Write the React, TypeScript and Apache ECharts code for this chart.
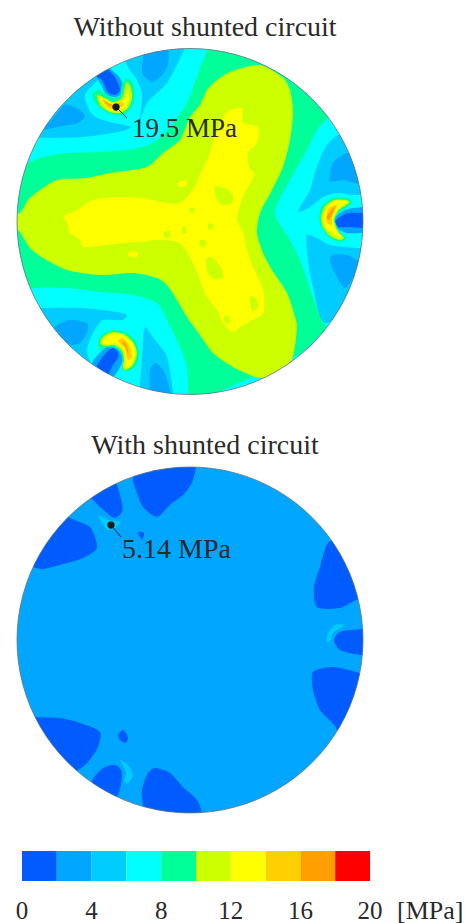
import React, { useEffect, useRef } from "react";
import * as echarts from "echarts";

type Pt = number[];
const FONT = "'Liberation Serif','Times New Roman',serif";

const scaleStops = [0, 2, 4, 6, 8, 10, 12, 14, 16, 18, 20];
const scaleColors = ["#005cff", "#00a6ff", "#00ccff", "#00ffff", "#00ff99", "#ccff00", "#ffff00", "#ffd000", "#ffa000", "#ff0000"];
const scaleTicks = [0, 4, 8, 12, 16, 20];

const titles = ["Without shunted circuit", "With shunted circuit"];
const unitLabel = "[MPa]";

// Contour outlines, traced in each disk's own units
const d1Green: Pt[] = [[208,35],[208,48],[200,68],[187,103],[170,127],[153,143],[133,149],[100,152],[67,153],[43,157],[27,163],[5,166],[5,290],[32,288],[67,288],[100,292],[133,295],[157,303],[167,320],[180,347],[187,367],[188,393],[188,405],[335,335],[325,325],[313,297],[300,260],[290,240],[275,213],[290,180],[307,150],[317,130],[328,118],[345,100],[330,35]];
const d1Lime: Pt[] = [[8,213],[20,213],[28,200],[40,190],[57,180],[87,178],[110,173],[147,167],[163,153],[180,140],[190,117],[200,105],[207,90],[217,80],[230,72],[260,65],[283,78],[290,90],[293,113],[290,140],[283,167],[272,190],[260,213],[257,233],[263,253],[272,270],[287,293],[295,317],[297,327],[292,360],[280,372],[260,378],[233,367],[213,353],[200,335],[187,317],[177,300],[167,285],[157,278],[133,273],[100,275],[67,270],[43,258],[30,248],[18,230],[8,230]];
const d1Yellow: Pt[] = [[63,217],[77,210],[93,200],[117,197],[143,198],[167,203],[180,203],[193,190],[200,175],[210,153],[217,130],[227,112],[242,108],[243,123],[258,127],[257,143],[248,153],[250,170],[255,173],[243,197],[237,220],[243,232],[250,260],[263,290],[263,313],[243,325],[233,332],[223,323],[217,310],[207,297],[200,280],[193,263],[180,243],[157,240],[140,242],[123,243],[83,247],[80,240],[70,233],[67,222]];
const d1LimeHoles: Pt[][] = [
  [[215,187],[225,188],[233,195],[232,203],[222,205],[216,198]],
  [[207,258],[213,258],[222,270],[223,278],[214,279],[207,272]],
  [[250,297],[256,298],[258,308],[252,311]],
  [[224,317],[229,316],[230,322],[226,324]],
  [[200,240],[206,241],[205,247],[200,246]],
  [[164,232],[170,231],[170,237],[165,238]],
  [[182,227],[186,227],[186,233],[182,233]],
  [[208,224],[213,224],[213,229],[208,229]],
  [[190,208],[194,208],[194,213],[190,213]],
];
const d1YellowSpots: Pt[][] = [
  [[178,183],[187,180],[186,186],[179,187]],
  [[128,252],[138,252],[137,257],[129,256]],
];
const d1Light: Pt[][] = [
  [[20,140],[37,138],[83,137],[123,131],[131,127],[115,123],[93,115],[85,95],[100,78],[110,62],[90,55],[50,90]],
  [[120,40],[123,55],[128,67],[137,80],[142,97],[140,120],[147,103],[167,83],[185,48],[190,35]],
  [[298,212],[310,207],[323,197],[337,193],[353,195],[372,193],[370,170],[340,135],[325,148],[315,173],[310,190]],
  [[307,235],[317,238],[330,245],[357,248],[372,248],[372,290],[325,323],[313,287],[307,253]],
  [[30,310],[45,308],[83,308],[117,312],[127,315],[123,320],[103,320],[93,333],[87,350],[90,363],[90,378],[40,335]],
  [[145,327],[153,337],[167,357],[173,392],[173,402],[140,397],[140,385],[142,360]],
];
const d1CyanHalo: Pt[] = [[85,95],[97,87],[127,72],[138,83],[142,97],[133,120],[115,123],[93,115]];
const d1Mid: Pt[][] = [
  [[50,122],[65,105],[80,110],[85,117],[78,123],[63,126],[40,130]],
  [[143,45],[143,57],[142,67],[143,75],[153,82],[167,68],[167,45]],
  [[330,181],[333,163],[348,153],[355,165],[359,183],[343,180]],
  [[330,260],[333,255],[347,255],[357,260],[362,262],[345,288],[335,273]],
  [[55,327],[70,320],[87,323],[88,330],[80,343],[72,345],[55,340]],
  [[150,370],[155,363],[163,370],[170,390],[170,402],[150,402],[150,387]],
  [[90,65],[105,55],[110,68],[120,78],[124,90],[117,97],[107,95],[100,83],[97,77]],
  [[333,220],[345,210],[362,207],[372,207],[372,233],[362,233],[347,233],[337,228]],
  [[92,363],[105,348],[113,345],[122,352],[122,363],[115,375],[108,380],[95,380]],
];
const d1Deep: Pt[][] = [
  [[95,68],[105,62],[107,68],[115,77],[120,90],[115,95],[108,92],[102,80],[97,77]],
  [[335,222],[340,217],[348,213],[363,213],[372,213],[372,228],[363,228],[347,227],[338,227]],
  [[97,366],[107,352],[113,348],[118,352],[118,358],[113,365],[108,375],[100,380]],
];
const d1RingA: Pt[][] = [
  [[92,95],[98,90],[105,93],[113,98],[120,95],[122,85],[126,78],[132,82],[135,93],[132,107],[123,115],[110,114],[97,105]],
  [[97,95],[103,97],[113,102],[122,98],[125,87],[127,82],[131,88],[132,98],[128,108],[120,113],[110,112],[100,105]],
  [[100,97],[113,103],[123,101],[127,93],[129,95],[127,105],[119,111],[110,110],[102,103]],
  [[102,99],[113,105],[122,102],[124,105],[117,109],[108,108]],
  [[103,100],[113,105],[120,103],[115,107],[108,105]],
];
const d1RingB: Pt[][] = [
  [[319,217],[323,205],[333,198],[348,198],[352,203],[340,212],[335,220],[340,232],[347,238],[340,242],[330,238],[322,228]],
  [[321,217],[325,206],[334,200],[347,200],[349,203],[339,210],[334,220],[338,232],[344,238],[340,240],[330,236],[323,227]],
  [[323,217],[327,207],[335,201],[347,201],[347,203],[338,209],[333,220],[337,230],[343,238],[332,233],[325,227]],
  [[326,217],[329,208],[337,205],[332,217],[332,225],[327,223]],
  [[327,217],[331,210],[335,207],[332,215],[329,220]],
];
const d1RingC: Pt[][] = [
  [[98,343],[102,335],[112,330],[125,332],[135,340],[139,353],[135,367],[125,372],[122,368],[123,360],[120,352],[113,347],[105,348],[100,350]],
  [[100,343],[103,337],[112,332],[124,334],[133,342],[137,353],[133,365],[126,370],[123,368],[124,360],[122,351],[114,345],[105,346]],
  [[102,343],[105,338],[113,334],[123,336],[132,343],[135,353],[132,363],[125,368],[125,358],[123,350],[115,343],[107,344]],
  [[118,341],[123,338],[130,347],[132,357],[128,360],[125,348]],
  [[122,342],[125,342],[128,350],[128,355],[126,348]],
];

const d2Deep: Pt[][] = [
  [[135,458],[195,458],[193,480],[185,493],[170,505],[157,517],[143,507],[137,493],[133,480]],
  [[85,490],[110,472],[117,485],[122,503],[122,512],[115,518],[107,513],[93,500]],
  [[60,508],[70,518],[90,527],[97,548],[83,558],[60,565],[42,569],[33,567],[22,560]],
  [[138,532],[144,533],[142,540]],
  [[345,538],[328,543],[320,567],[314,587],[317,607],[340,608],[357,600],[375,600]],
  [[375,629],[363,629],[340,632],[334,640],[340,650],[362,655],[375,655]],
  [[313,672],[333,667],[360,673],[375,680],[345,745],[335,726],[320,710],[313,690]],
  [[25,715],[35,717],[60,718],[80,723],[100,732],[98,747],[88,762],[78,770],[60,775]],
  [[118,735],[123,730],[128,737],[126,743],[120,740]],
  [[92,782],[103,768],[115,765],[122,772],[117,797],[100,805]],
  [[143,825],[143,807],[142,790],[148,773],[155,768],[170,773],[183,787],[197,800],[202,813],[202,825]],
];
const d2Light: Pt[][] = [
  [[98,515],[108,520],[120,522],[115,528],[108,530],[102,523]],
  [[345,625],[335,625],[328,633],[327,642],[331,640],[333,633]],
  [[120,760],[128,765],[133,775],[128,783],[124,782],[126,772]],
];

const disk1Layers: [number, Pt[]][] = [
  [4, d1Green], [5, d1Lime], [6, d1Yellow],
  ...d1LimeHoles.map((p) => [5, p] as [number, Pt[]]),
  ...d1YellowSpots.map((p) => [6, p] as [number, Pt[]]),
  ...d1Light.map((p) => [2, p] as [number, Pt[]]),
  [3, d1CyanHalo],
  ...d1Mid.map((p) => [1, p] as [number, Pt[]]),
  ...d1Deep.map((p) => [0, p] as [number, Pt[]]),
  ...[d1RingA, d1RingB, d1RingC].flatMap((ring) => ring.map((p, i) => [4 + i, p] as [number, Pt[]])),
];
const disk2Layers: [number, Pt[]][] = [
  ...d2Deep.map((p) => [0, p] as [number, Pt[]]),
  ...d2Light.map((p) => [2, p] as [number, Pt[]]),
];

const disk1Domain = { x: [17, 363], y: [48.5, 394.5] };
const disk2Domain = { x: [17, 363], y: [467, 813] };
const disk1Peak = { dot: [116, 107], end: [127, 118], at: [132, 128], text: "19.5 MPa", size: 27 };
const disk2Peak = { dot: [111, 525], end: [121, 537], at: [122, 548], text: "5.14 MPa", size: 28 };

function diskSeries(gridIndex: number, domain: { x: number[]; y: number[] }, baseLevel: number, layers: [number, Pt[]][], peak: any) {
  const cx = (domain.x[0] + domain.x[1]) / 2;
  const cy = (domain.y[0] + domain.y[1]) / 2;
  const rad = (domain.x[1] - domain.x[0]) / 2;
  const common = { type: "custom", xAxisIndex: gridIndex, yAxisIndex: gridIndex, silent: true, clip: false, animation: false };
  const circleShape = (api: any) => {
    const c = api.coord([cx, cy]);
    return { cx: c[0], cy: c[1], r: api.size([rad, 0])[0] };
  };
  return [
    {
      ...common,
      data: [[cx, cy]],
      renderItem: (_: any, api: any) => ({ type: "circle", shape: circleShape(api), style: { fill: scaleColors[baseLevel] } }),
    },
    {
      ...common,
      data: layers.map((l, i) => [cx, cy, i]),
      renderItem: (p: any, api: any) => {
        const [level, pts] = layers[p.dataIndex];
        return {
          type: "polygon",
          shape: { points: pts.map((q) => api.coord(q)), smooth: 0.25 },
          style: { fill: scaleColors[level] },
          clipPath: { type: "circle", shape: circleShape(api) },
        };
      },
    },
    {
      ...common,
      data: [[cx, cy]],
      renderItem: (_: any, api: any) => ({
        type: "circle",
        shape: circleShape(api),
        style: { fill: "none", stroke: "#5f7480", lineWidth: 0.8 },
      }),
    },
    {
      ...common,
      data: [peak.dot],
      renderItem: (_: any, api: any) => {
        const d = api.coord(peak.dot);
        const e = api.coord(peak.end);
        const a = api.coord(peak.at);
        return {
          type: "group",
          children: [
            { type: "line", shape: { x1: d[0], y1: d[1], x2: e[0], y2: e[1] }, style: { stroke: "#222", lineWidth: 1 } },
            { type: "circle", shape: { cx: d[0], cy: d[1], r: 3.7 }, style: { fill: "#1a1a1a" } },
            {
              type: "text",
              x: a[0],
              y: a[1],
              style: { text: peak.text, fill: "#2a2a2a", font: `${peak.size}px ${FONT}`, align: "left", verticalAlign: "middle" },
            },
          ],
        };
      },
    },
  ];
}

export default function App() {
  const ref = useRef<HTMLDivElement>(null);
  useEffect(() => {
    const chart = echarts.init(ref.current!, null, { renderer: "svg" });
    const hiddenX = (d: { x: number[] }, gridIndex: number) => ({ type: "value", gridIndex, show: false, min: d.x[0], max: d.x[1] });
    const hiddenY = (d: { y: number[] }, gridIndex: number) => ({ type: "value", gridIndex, show: false, inverse: true, min: d.y[0], max: d.y[1] });
    chart.setOption({
      animation: false,
      backgroundColor: "#ffffff",
      grid: [
        { left: 17, top: 48.5, width: 346, height: 346 },
        { left: 17, top: 467, width: 346, height: 346 },
        { left: 22, top: 851, width: 348, height: 34 },
      ],
      xAxis: [
        hiddenX(disk1Domain, 0),
        hiddenX(disk2Domain, 1),
        {
          type: "value",
          gridIndex: 2,
          min: scaleTicks[0],
          max: scaleTicks[scaleTicks.length - 1],
          interval: scaleTicks[1] - scaleTicks[0],
          axisLine: { show: false },
          axisTick: { show: false },
          splitLine: { show: false },
          axisLabel: { show: true, margin: 17, color: "#2a2a2a", fontFamily: FONT, fontSize: 25 },
        },
      ],
      yAxis: [
        hiddenY(disk1Domain, 0),
        hiddenY(disk2Domain, 1),
        { type: "value", gridIndex: 2, show: false, min: 0, max: 1 },
      ],
      graphic: [
        { type: "text", x: 205, y: 26, style: { text: titles[0], font: `28px ${FONT}`, fill: "#2a2a2a", align: "center", verticalAlign: "middle" } },
        { type: "text", x: 205, y: 444, style: { text: titles[1], font: `28px ${FONT}`, fill: "#2a2a2a", align: "center", verticalAlign: "middle" } },
        { type: "text", x: 397, y: 910, style: { text: unitLabel, font: `26px ${FONT}`, fill: "#2a2a2a", align: "left", verticalAlign: "middle" } },
      ],
      series: [
        ...diskSeries(0, disk1Domain, 3, disk1Layers, disk1Peak),
        ...diskSeries(1, disk2Domain, 1, disk2Layers, disk2Peak),
        {
          type: "custom",
          xAxisIndex: 2,
          yAxisIndex: 2,
          silent: true,
          data: scaleColors.map((_, i) => [scaleStops[i], scaleStops[i + 1]]),
          renderItem: (p: any, api: any) => {
            const a = api.coord([api.value(0), 1]);
            const b = api.coord([api.value(1), 0]);
            return {
              type: "rect",
              shape: { x: a[0], y: a[1], width: b[0] - a[0], height: b[1] - a[1] },
              style: { fill: scaleColors[p.dataIndex] },
            };
          },
        },
      ],
    });
    return () => chart.dispose();
  }, []);
  return <div ref={ref} style={{ position: "fixed", left: 0, top: 0, width: 469, height: 923 }} />;
}
